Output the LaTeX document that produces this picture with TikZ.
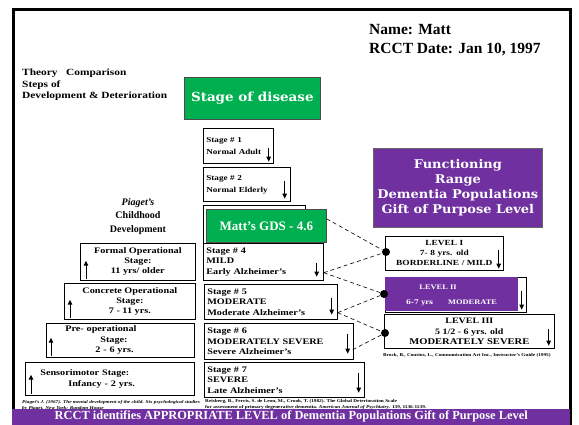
\documentclass[tikz,border=0pt]{standalone}
\usepackage{fontspec}
\setmainfont{Liberation Serif}
\newfontfamily\scanfont[FakeStretch=1.2]{Liberation Serif}
\newfontfamily\heavyfont[FakeStretch=1.08]{DejaVu Serif}
\usetikzlibrary{arrows.meta,calc}
\definecolor{pptpurple}{RGB}{112,48,160}
\definecolor{pptgreen}{RGB}{0,176,80}
\begin{document}
\begin{tikzpicture}[x=1pt,y=-1pt,
  box/.style={draw=black, line width=0.7pt, fill=white, anchor=north west, inner sep=0pt},
  stxt/.style={font=\scanfont\bfseries\fontsize{8.5}{10.5}\selectfont, align=left, text=black},
  smtxt/.style={font=\scanfont\bfseries\fontsize{7.6}{12}\selectfont, align=left, text=black},
  ptxt/.style={font=\scanfont\bfseries\fontsize{8.5}{10}\selectfont, align=center, text=black},
  heavy/.style={font=\heavyfont\bfseries\fontsize{12.5}{15.5}\selectfont, text=white, align=center},
  varr/.style={line width=1pt, -{Triangle[length=5pt,width=4.5pt]}},
  dashc/.style={dash pattern=on 4pt off 3pt, line width=0.6pt},
  dot/.style={circle, fill=black, inner sep=0pt, minimum size=8pt},
  cite/.style={font=\scanfont\bfseries\fontsize{4.4}{6}\selectfont, align=left, anchor=north west, inner sep=0pt}
]
\useasboundingbox (0,0) rectangle (579,425);
\fill[white] (0,0) rectangle (579,425);
% frame
\draw[line width=3pt] (13.5,425) -- (13.5,9.5) -- (570.5,9.5) -- (570.5,425);

% header texts
\node[anchor=north west, inner sep=0pt, align=left, font=\bfseries\fontsize{15.5}{19}\selectfont] (name) at (369,24) {Name: Matt\\RCCT Date: Jan 10, 1997};
\node[anchor=north west, inner sep=0pt, align=left, font=\scanfont\bfseries\fontsize{9.5}{11.5}\selectfont] (theory) at (22,69) {Theory\ \ \ Comparison\\Steps of\\Development \& Deterioration};

% Stage of disease
\node[box, fill=pptgreen, draw=black!70, minimum width=136, minimum height=42, heavy] (sod) at (184,77) {Stage of disease};

% stage boxes
\node[box, minimum width=70, minimum height=35, text width=64, inner xsep=3pt, smtxt] (s1) at (203,128) {Stage \# 1\\Normal Adult};
\node[box, minimum width=87, minimum height=34, text width=81, inner xsep=3pt, smtxt] (s2) at (203,167) {Stage \# 2\\Normal Elderly};
\node[box, minimum width=102, minimum height=38] (s3) at (203,205) {};
\node[box, fill=pptgreen, draw=black!70, minimum width=120, minimum height=33, font=\bfseries\fontsize{13}{15}\selectfont, text=white] (gds) at (206,209) {Matt’s GDS - 4.6};
\node[box, minimum width=120, minimum height=37, text width=114, inner xsep=3pt, stxt] (s4) at (203,243) {Stage \# 4\\MILD\\Early Alzheimer’s};
\node[box, minimum width=133, minimum height=35, text width=127, inner xsep=3pt, stxt] (s5) at (204,284) {Stage \# 5\\MODERATE\\Moderate Alzheimer’s};
\node[box, minimum width=149, minimum height=36, text width=143, inner xsep=3pt, stxt] (s6) at (204,323) {Stage \# 6\\MODERATELY SEVERE\\Severe Alzheimer’s};
\node[box, minimum width=160, minimum height=35, text width=154, inner xsep=3pt, stxt] (s7) at (204,362) {Stage \# 7\\SEVERE\\Late Alzheimer’s};

\draw[varr] ($(s1.south east)+(-5,-16)$) -- ($(s1.south east)+(-5,-2)$);
\draw[varr] ($(s2.south east)+(-6,-21)$) -- ($(s2.south east)+(-6,-3)$);
\draw[varr] ($(s4.south east)+(-7,-18)$) -- ($(s4.south east)+(-7,-4)$);
\draw[varr] ($(s5.south east)+(-6,-22)$) -- ($(s5.south east)+(-6,-5)$);
\draw[varr] ($(s6.south east)+(-6,-26)$) -- ($(s6.south east)+(-6,-6)$);
\draw[varr] ($(s7.south east)+(-6,-25)$) -- ($(s7.south east)+(-6,-5)$);

% Piaget
\node[font=\bfseries\fontsize{10}{13.5}\selectfont, align=center, inner sep=0pt, anchor=north] (pia) at (138,198) {\textit{Piaget’s}\\Childhood\\Development};
\node[box, minimum width=115, minimum height=37, ptxt] (pf) at (80,243) {Formal Operational\\Stage:\\11 yrs/ older};
\node[box, minimum width=131, minimum height=36, ptxt] (pc) at (64,283) {Concrete Operational\\Stage:\\7 - 11 yrs.};
\node[box, minimum width=148, minimum height=34, text width=128, inner xsep=10pt, stxt] (pp) at (46,323) {\hspace*{9pt}Pre- operational\\\hspace*{44pt}Stage:\\\hspace*{39pt}2 - 6 yrs.};
\node[box, minimum width=169, minimum height=33, text width=149, inner xsep=10pt, stxt] (psm) at (25,362) {\hspace*{5pt}Sensorimotor Stage:\\\hspace*{33pt}Infancy - 2 yrs.};
\draw[varr] ($(pf.south west)+(6,-2)$) -- ($(pf.south west)+(6,-20)$);
\draw[varr] ($(pc.south west)+(6,-2)$) -- ($(pc.south west)+(6,-20)$);
\draw[varr] ($(pp.south west)+(5,-2)$) -- ($(pp.south west)+(5,-20)$);
\draw[varr] ($(psm.south west)+(6,-2)$) -- ($(psm.south west)+(6,-21)$);

% Functioning range header
\node[box, fill=pptpurple, draw=black!60, minimum width=169, minimum height=79, heavy, font=\heavyfont\bfseries\fontsize{12}{15}\selectfont] (fr) at (373,148) {Functioning\\Range\\Dementia Populations\\Gift of Purpose Level};

% levels
\node[box, minimum width=118, minimum height=34, text width=108, inner xsep=2pt, ptxt, font=\scanfont\bfseries\fontsize{7.8}{10}\selectfont] (l1) at (385,236) {LEVEL I\\7- 8 yrs. old\\BORDERLINE / MILD};
\node[box, minimum width=141, minimum height=35] (l2) at (385,277) {};
\node[box, fill=pptpurple, draw=pptpurple, minimum width=132, minimum height=33] (l2p) at (385,277) {};
\node[anchor=base, inner sep=0pt, text=white, font=\scanfont\bfseries\fontsize{7}{8}\selectfont] (l2t) at (438,290) {LEVEL II};
\node[anchor=base west, inner sep=0pt, text=white, font=\heavyfont\bfseries\fontsize{6.5}{8}\selectfont] (l2a) at (406,305) {6-7 yrs};
\node[anchor=base west, inner sep=0pt, text=white, font=\scanfont\bfseries\fontsize{7}{8}\selectfont] (l2b) at (448,305) {MODERATE};
\node[box, minimum width=170, minimum height=34, ptxt, font=\scanfont\bfseries\fontsize{8.3}{10.5}\selectfont] (l3) at (384,314) {LEVEL III\\5 1/2 - 6 yrs. old\\{\fontsize{8.8}{10.5}\selectfont MODERATELY SEVERE}};
\draw[varr] ($(l1.south east)+(-5,-21)$) -- ($(l1.south east)+(-5,-2)$);
\draw[varr] ($(l2.south east)+(-5,-22)$) -- ($(l2.south east)+(-5,-3)$);
\draw[varr] ($(l3.south east)+(-6,-20)$) -- ($(l3.south east)+(-6,-3)$);

% dots and dashed connectors
\node[dot] (d1) at (386,252) {};
\node[dot] (d2) at (384,294) {};
\node[dot] (d3) at (385,333) {};
\draw[dashc] ($(gds.east)+(0,-7)$) -- (d1);
\draw[dashc] ($(s4.south east)+(0,-8)$) -- (d1);
\draw[dashc] ($(s4.south east)+(0,-8)$) -- (d2);
\draw[dashc] ($(s5.south east)+(0,-7)$) -- (d2);
\draw[dashc] ($(s5.south east)+(0,-7)$) -- (d3);
\draw[dashc] ($(s6.south east)+(-1,-10)$) -- (d3);

% citations
\node[cite] (c1) at (22,400) {\textit{Piaget’s J. (1967). The mental development of the child. Six psychological studies}\\\textit{by Piaget. New York: Random House}};
\node[cite] (c2) at (205,399) {Reisberg, B., Ferris, S. de Leon, M., Crook, T. (1982). The Global Deterioration Scale\\for assessment of primary degenerative dementia. \textit{American Journal of Psychiatry}. 139, 1136-1139.};
\node[cite] (c3) at (383,353) {Brock, B., Cousins, L., Communication Art Inc., Instructor’s Guide (1995)};

% banner
\node[fill=pptpurple, minimum width=558, minimum height=16, anchor=south west, inner sep=0pt, text=white, font=\bfseries\fontsize{12.4}{14}\selectfont] (banner) at (12,425) {RCCT identifies APPROPRIATE LEVEL of Dementia Populations Gift of Purpose Level};
\end{tikzpicture}
\end{document}
